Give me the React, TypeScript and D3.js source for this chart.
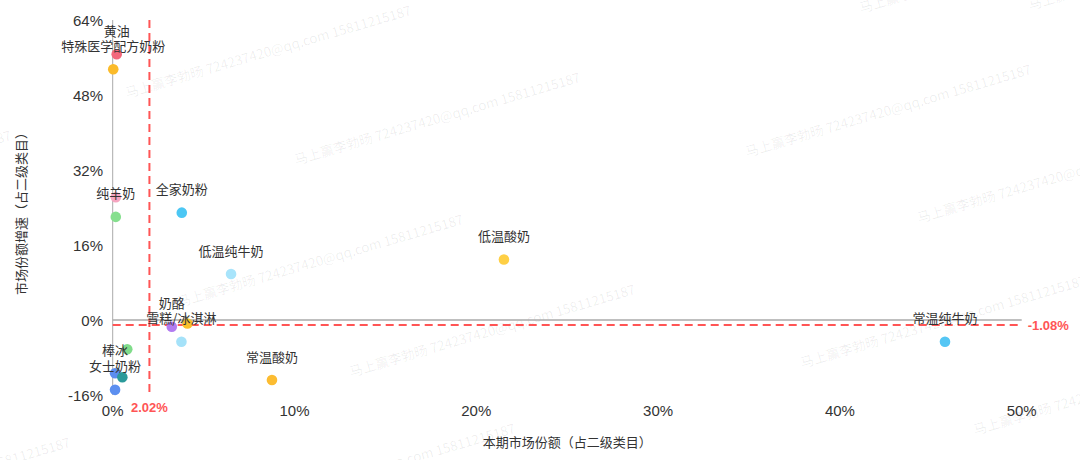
import React from 'react';
import * as d3 from 'd3';

// 品类：本期市场份额(%) 与 市场份额增速(%)
const names = ['黄油', '特殊医学配方奶粉', '', '纯羊奶', '全家奶粉', '低温纯牛奶', '低温酸奶', '奶酪', '', '雪糕/冰淇淋', '', '棒冰', '', '女士奶粉', '常温酸奶', '常温纯牛奶'];
const shares = [0.22, 0.03, 0.17, 0.17, 3.8, 6.51, 21.52, 3.25, 4.11, 3.78, 0.8, 0.13, 0.53, 0.13, 8.76, 45.78];
const growth = [56.7, 53.5, 26.2, 22.0, 22.9, 9.8, 12.9, -1.43, -0.75, -4.63, -6.25, -11.37, -12.2, -14.9, -12.8, -4.63];
const colors = ['#f3677c', '#fbbb2a', '#f6a5c0', '#86df8e', '#4cc7f4', '#a8e4fb', '#fecf45', '#b27cf0', '#fac12c', '#a5e2f9', '#80dc8a', '#5b8def', '#2b9a9a', '#5c8ff0', '#fcbc31', '#55c6f4'];

const xTicks = [0, 10, 20, 30, 40, 50];
const yTicks = [-16, 0, 16, 32, 48, 64];
const avgShare = 2.02;
const avgGrowth = -1.08;

const watermark = '马上赢李勃旸 724237420@qq.com 15811215187';
const watermarkSpots: [number, number][] = [
  [127, 98], [296, 165], [179, 307], [351, 377], [231, 516],
  [747, 157], [919, 223], [802, 368], [975, 435], [861, 13],
  [-214, 530], [-273, 223], [1030, 10],
];

const W = 1080;
const H = 460;
const RED = '#ff5555';
const CJK = '"Noto Sans CJK SC", sans-serif';
const NUM = '"Liberation Sans", "Noto Sans CJK SC", sans-serif';

export default function App() {
  const x = d3.scaleLinear().domain([0, 50]).range([112.7, 1021.7]);
  const y = d3.scaleLinear().domain([-16, 64]).range([395, 20]);
  const [x0, x1] = x.range();
  const [yb, yt] = y.range();

  return (
    <svg width={W} height={H} style={{ position: 'absolute', left: 0, top: 0, background: '#fff' }}>
      {/* watermark */}
      <g fill="#000" fillOpacity={0.07} fontFamily={CJK} fontSize={13.5}>
        {watermarkSpots.map(([wx, wy], i) => (
          <text key={i} x={wx} y={wy} transform={`rotate(-16.3, ${wx}, ${wy})`}>{watermark}</text>
        ))}
      </g>

      {/* axis lines */}
      <line x1={x(0)} x2={x(0)} y1={yt} y2={yb} stroke="#aaa" strokeWidth={1} />
      <line x1={x0} x2={x1} y1={y(0)} y2={y(0)} stroke="#aaa" strokeWidth={1.3} />

      {/* y ticks */}
      <g fontFamily={NUM} fontSize={15} fill="#333" textAnchor="end">
        {yTicks.map(t => (
          <text key={t} x={103} y={y(t)} dominantBaseline="central">{`${t}%`}</text>
        ))}
      </g>
      {/* x ticks */}
      <g fontFamily={NUM} fontSize={15} fill="#333" textAnchor="middle">
        {xTicks.map(t => (
          <text key={t} x={x(t)} y={410} dominantBaseline="central">{`${t}%`}</text>
        ))}
      </g>

      {/* axis titles */}
      <text x={(x0 + x1) / 2} y={441} textAnchor="middle" dominantBaseline="central" fontFamily={CJK} fontSize={13} fill="#333">
        本期市场份额（占二级类目）
      </text>
      <text transform={`translate(20, ${(yt + yb) / 2 + 3}) rotate(-90)`} textAnchor="middle" dominantBaseline="central" fontFamily={CJK} fontSize={13} fill="#333">
        市场份额增速（占二级类目）
      </text>

      {/* average lines */}
      <line x1={x(avgShare)} x2={x(avgShare)} y1={yt} y2={yb} stroke={RED} strokeWidth={2} strokeDasharray="8 5" />
      <line x1={x0} x2={x1} y1={y(avgGrowth)} y2={y(avgGrowth)} stroke={RED} strokeWidth={2} strokeDasharray="8 5" />
      <text x={x(avgShare)} y={407} textAnchor="middle" dominantBaseline="central" fontFamily={NUM} fontWeight="bold" fontSize={13} fill={RED}>
        {`${avgShare}%`}
      </text>
      <text x={x1 + 6} y={y(avgGrowth)} dominantBaseline="central" fontFamily={NUM} fontWeight="bold" fontSize={13} fill={RED}>
        {`${avgGrowth}%`}
      </text>

      {/* points */}
      {shares.map((s, i) => (
        <circle key={i} cx={x(s)} cy={y(growth[i])} r={5.3} fill={colors[i]} />
      ))}

      {/* labels */}
      <g fontFamily={CJK} fontSize={13} fill="#333" textAnchor="middle">
        {names.map((n, i) => n ? (
          <text key={i} x={x(shares[i])} y={y(growth[i]) - 24} dominantBaseline="central">{n}</text>
        ) : null)}
      </g>
    </svg>
  );
}
